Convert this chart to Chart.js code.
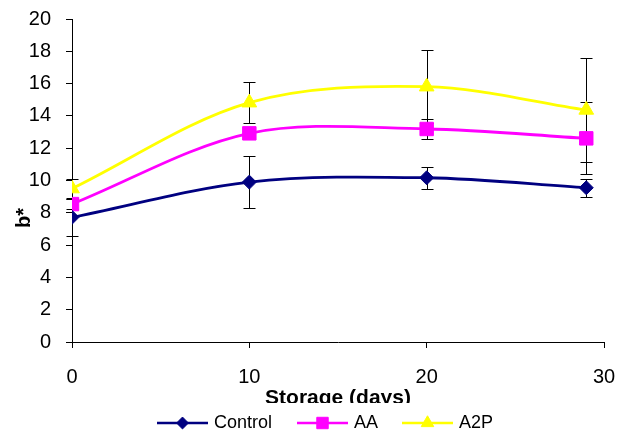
<!DOCTYPE html>
<html>
<head>
<meta charset="utf-8">
<script src="https://cdn.jsdelivr.net/npm/chart.js@4.4.1/dist/chart.umd.min.js"></script>
<style>
  html, body { margin: 0; padding: 0; background: #fff; }
  #wrap { width: 620px; height: 436px; }
</style>
</head>
<body>
<div id="wrap"><canvas id="chart" width="620" height="436"></canvas></div>
<script>
/* ---------- data ---------- */
const days = [0, 10, 20, 29];
const control = [7.72, 9.9, 10.17, 9.55];
const aa = [8.54, 12.92, 13.19, 12.61];
const a2p = [9.5, 14.82, 15.81, 14.37];
const controlErr = [1.14, 1.6, 0.69, 0.56];
const aaErr = [0.3, 0.3, 0.62, 2.23];
const a2pErr = [0.58, 1.25, 2.26, 3.24];

const xTicks = [0, 10, 20, 30];
const seriesNames = ['Control', 'AA', 'A2P'];

const FONT = '"Liberation Sans", Arial, sans-serif';
const pts = vals => vals.map((v, i) => ({ x: days[i], y: v }));

/* ---------- error bars, drawn under the lines ---------- */
const errorBars = {
  id: 'errorBars',
  beforeDatasetsDraw(chart) {
    const { ctx, scales: { x, y } } = chart;
    const errs = [controlErr, aaErr, a2pErr];
    ctx.save();
    ctx.strokeStyle = '#000';
    ctx.lineWidth = 1;
    chart.data.datasets.forEach((ds, di) => {
      ds.data.forEach((p, i) => {
        const e = errs[di][i];
        const px = Math.round(x.getPixelForValue(p.x)) + 0.5;
        const top = Math.round(y.getPixelForValue(p.y + e)) + 0.5;
        const bot = Math.round(y.getPixelForValue(p.y - e)) + 0.5;
        ctx.beginPath();
        ctx.moveTo(px, top); ctx.lineTo(px, bot);
        ctx.moveTo(px - 6, top); ctx.lineTo(px + 6, top);
        ctx.moveTo(px - 6, bot); ctx.lineTo(px + 6, bot);
        ctx.stroke();
      });
    });
    ctx.restore();
  }
};

/* ---------- titles + legend ---------- */
const decorations = {
  id: 'decorations',
  afterDraw(chart) {
    const ctx = chart.ctx;
    ctx.save();
    ctx.fillStyle = '#000';

    // y title
    ctx.font = 'bold 20px ' + FONT;
    ctx.save();
    ctx.translate(30, 218);
    ctx.rotate(-Math.PI / 2);
    ctx.textAlign = 'center';
    ctx.textBaseline = 'alphabetic';
    ctx.fillText('b*', 0, 0);
    ctx.restore();

    // x title (bottom is cut off by the legend strip)
    ctx.save();
    ctx.beginPath();
    ctx.rect(0, 0, 620, 403);
    ctx.clip();
    ctx.font = 'bold 21px ' + FONT;
    ctx.textAlign = 'center';
    ctx.textBaseline = 'alphabetic';
    ctx.fillText('Storage (days)', 338, 404);
    ctx.restore();

    // legend
    const starts = [157, 297, 402];
    ctx.font = '18px ' + FONT;
    ctx.textAlign = 'left';
    ctx.textBaseline = 'middle';
    chart.data.datasets.forEach((ds, i) => {
      const x0 = starts[i], yy = 423;
      ctx.strokeStyle = ds.borderColor;
      ctx.lineWidth = 2.5;
      ctx.beginPath();
      ctx.moveTo(x0, yy); ctx.lineTo(x0 + 51, yy);
      ctx.stroke();
      ctx.fillStyle = ds.pointBackgroundColor;
      ctx.strokeStyle = ds.pointBorderColor;
      ctx.lineWidth = 1;
      Chart.helpers.drawPoint(ctx, {
        pointStyle: ds.pointStyle,
        radius: ds.pointRadius * 0.85,
        borderWidth: 1,
        rotation: 0
      }, x0 + 25.5, yy);
      ctx.fillStyle = '#000';
      ctx.fillText(seriesNames[i], x0 + 57, yy);
    });
    ctx.restore();
  }
};

const mkSet = (label, vals, color, style, r) => ({
  label,
  data: pts(vals),
  borderColor: color,
  backgroundColor: color,
  borderWidth: 2.8,
  tension: 0.33,
  pointStyle: style,
  pointRadius: r,
  pointHoverRadius: r,
  pointBackgroundColor: color,
  pointBorderColor: color,
  pointBorderWidth: 1
});

new Chart(document.getElementById('chart'), {
  type: 'line',
  data: {
    datasets: [
      mkSet('Control', control, '#000080', 'rectRot', 7),
      mkSet('AA', aa, '#FF00FF', 'rect', 9.5),
      mkSet('A2P', a2p, '#FFFF00', 'triangle', 8.5)
    ]
  },
  options: {
    responsive: false,
    animation: false,
    layout: { padding: { left: 0, right: 16, top: 19, bottom: 0 } },
    plugins: { legend: { display: false }, tooltip: { enabled: false } },
    scales: {
      x: {
        type: 'linear',
        min: 0,
        max: 30,
        afterFit: s => {
          s.height = 94;
          s.paddingLeft = 4; s.paddingRight = 4;
        },
        afterBuildTicks: s => { s.ticks = xTicks.map(v => ({ value: v })); },
        grid: { drawOnChartArea: false, drawTicks: true, tickLength: 6, color: '#000' },
        border: { color: '#000', width: 1 },
        ticks: { color: '#000', padding: 17, font: { family: FONT, size: 20 } }
      },
      y: {
        min: 0,
        max: 20,
        afterFit: s => {
          s.width = 72;
          s.paddingTop = 4; s.paddingBottom = 4;
        },
        grid: { drawOnChartArea: false, drawTicks: true, tickLength: 6, color: '#000' },
        border: { color: '#000', width: 1 },
        ticks: { stepSize: 2, color: '#000', padding: 15, font: { family: FONT, size: 20 } }
      }
    }
  },
  plugins: [errorBars, decorations]
});
</script>
</body>
</html>
